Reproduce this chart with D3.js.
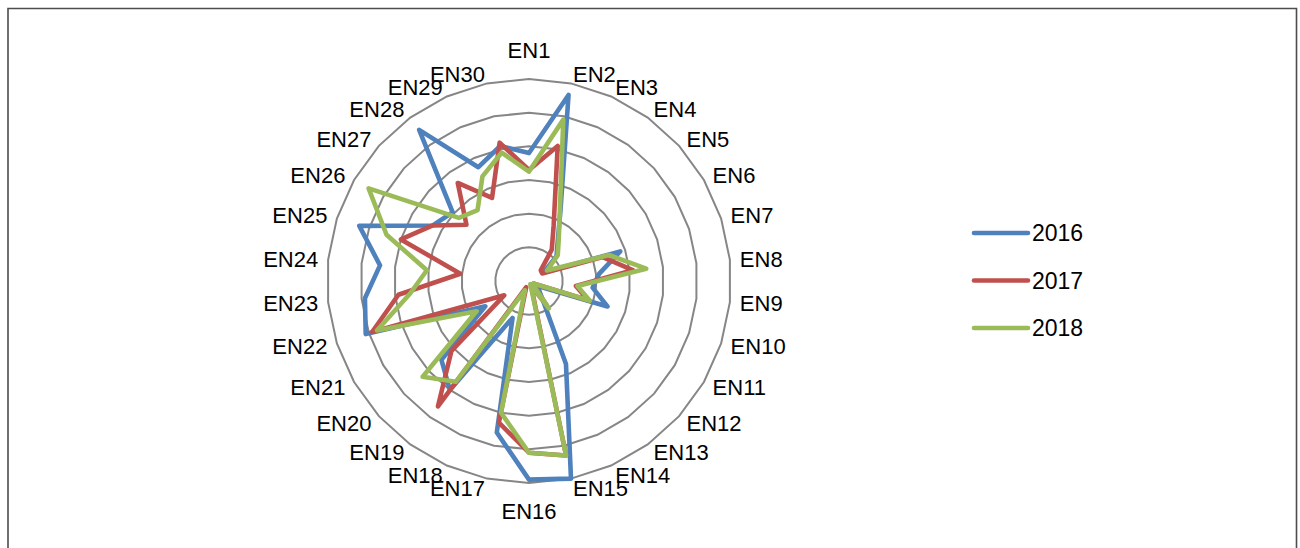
<!DOCTYPE html>
<html>
<head>
<meta charset="utf-8">
<script src="https://cdn.jsdelivr.net/npm/d3@7"></script>
<style>
  body { margin: 0; background: #fff; }
  svg { display: block; }
  text { font-family: "Liberation Sans", Arial, sans-serif; fill: #000; }
</style>
</head>
<body>
<div class="radar_content"></div>
<script>
// categories around the radar, clockwise from the top
var categories = ["EN1","EN2","EN3","EN4","EN5","EN6","EN7","EN8","EN9","EN10",
                  "EN11","EN12","EN13","EN14","EN15","EN16","EN17","EN18","EN19","EN20",
                  "EN21","EN22","EN23","EN24","EN25","EN26","EN27","EN28","EN29","EN30"];

var seriesNames = ["2016", "2017", "2018"];

var values2016 = [3.8, 5.65, 2.3, 1.45, 1.1, 0.5, 2.85, 2.1, 1.9, 2.45,
                  0.3, 0.4, 0.7, 2.7, 6.0, 5.9, 4.6, 1.2, 4.0, 3.5,
                  1.5, 5.1, 4.9, 4.45, 5.3, 3.3, 3.05, 5.55, 3.7, 4.1];
var values2017 = [3.3, 4.1, 1.8, 1.15, 0.47, 0.45, 2.3, 3.1, 1.4, 1.85,
                  0.15, 0.15, 0.9, 0.15, 5.3, 5.1, 4.3, 0.2, 4.6, 3.1,
                  0.85, 4.9, 3.9, 2.05, 4.0, 3.3, 2.5, 3.6, 2.7, 4.2];
var values2018 = [3.25, 4.9, 2.25, 1.5, 1.15, 0.62, 2.5, 3.5, 1.45, 1.9,
                  0.15, 0.15, 1.0, 0.1, 5.3, 5.1, 4.0, 0.3, 3.7, 4.25,
                  1.8, 4.75, 3.55, 3.05, 4.45, 5.5, 2.8, 2.6, 3.4, 3.9];

// gridline rings (no labels shown on the chart)
var ringTicks = [1, 2, 3, 4, 5, 6];

var colors = ["#4F81BD", "#C0504D", "#9BBB59"];

var width = 1300, height = 548;
var cx = 529, cy = 281;
var outerR = 202;

var svg = d3.select(".radar_content")
  .append("svg")
    .attr("width", width)
    .attr("height", height);

// frame, open at the bottom like the cropped original
svg.append("path")
    .attr("d", "M8," + height + "V8.5H1296.5V" + height)
    .attr("fill", "none")
    .attr("stroke", "#4d4d4d")
    .attr("stroke-width", 1.6);

var r = d3.scaleLinear()
          .domain([0, d3.max(ringTicks)])
          .range([0, outerR]);

var angle = d3.scaleLinear()
              .domain([0, categories.length])
              .range([0, 2 * Math.PI]);

var g = svg.append("g")
    .attr("transform", "translate(" + cx + "," + cy + ")");

var radial = d3.lineRadial()
    .angle(function(d, i) { return angle(i); })
    .radius(function(d) { return r(d); })
    .curve(d3.curveLinearClosed);

// rings drawn as 30-sided polygons
g.selectAll(".ring")
  .data(ringTicks)
  .enter().append("path")
    .attr("class", "ring")
    .attr("d", function(t) { return radial(categories.map(function() { return t; })); })
    .attr("fill", "none")
    .attr("stroke", "#868686")
    .attr("stroke-width", 2);

var series = [values2016, values2017, values2018];

g.selectAll(".series")
  .data(series)
  .enter().append("path")
    .attr("class", "series")
    .attr("d", function(d) { return radial(d); })
    .attr("fill", "none")
    .attr("stroke", function(d, i) { return colors[i]; })
    .attr("stroke-width", 4.6)
    .attr("stroke-linejoin", "round");

// category labels, edge of the label box sits just outside the outer ring
var labelR = outerR + 10;
g.selectAll(".cat")
  .data(categories)
  .enter().append("text")
    .attr("class", "cat")
    .style("font-size", "22px")
    .each(function(d, i) {
      var a = angle(i);
      var s = Math.sin(a), c = Math.cos(a);
      var x = s * labelR, y = -c * labelR;
      var t = d3.select(this).attr("x", x);
      if (Math.abs(s) < 0.01) {
        t.attr("text-anchor", "middle")
         .attr("y", c > 0 ? y - 11 : y + 26);
      } else {
        t.attr("text-anchor", s > 0 ? "start" : "end")
         .attr("y", y)
         .attr("dy", "0.36em");
      }
    })
    .text(function(d) { return d; });

// legend
var legend = svg.append("g")
    .attr("transform", "translate(974,233)");

var item = legend.selectAll(".item")
  .data(seriesNames)
  .enter().append("g")
    .attr("class", "item")
    .attr("transform", function(d, i) { return "translate(0," + (i * 47.5) + ")"; });

item.append("line")
    .attr("x1", 0)
    .attr("x2", 54)
    .attr("stroke", function(d, i) { return colors[i]; })
    .attr("stroke-width", 4.6)
    .attr("stroke-linecap", "round");

item.append("text")
    .attr("x", 58)
    .attr("dy", "0.36em")
    .style("font-size", "23px")
    .text(function(d) { return d; });
</script>
</body>
</html>
